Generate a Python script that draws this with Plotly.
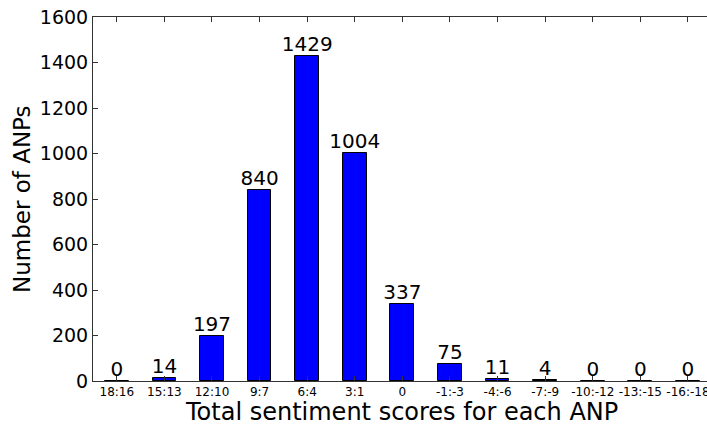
import plotly.graph_objects as go

categories = ["18:16", "15:13", "12:10", "9:7", "6:4", "3:1", "0",
              "-1:-3", "-4:-6", "-7:-9", "-10:-12", "-13:-15", "-16:-18"]
counts = [0, 14, 197, 840, 1429, 1004, 337, 75, 11, 4, 0, 0, 0]
y_ticks = [0, 200, 400, 600, 800, 1000, 1200, 1400, 1600]

xpos = list(range(len(categories)))

fig = go.Figure()
fig.add_trace(go.Bar(
    x=xpos, y=counts, width=0.5,
    marker=dict(color="#0000ff", line=dict(color="black", width=1)),
    hoverinfo="skip",
))
fig.add_trace(go.Scatter(
    x=xpos, y=counts, mode="text",
    text=[str(c) for c in counts], textposition="top center",
    textfont=dict(family="DejaVu Sans", size=20, color="black"),
    cliponaxis=False,
))

fig.update_layout(
    width=707, height=425,
    margin=dict(l=93, r=0, t=17, b=44),
    paper_bgcolor="white", plot_bgcolor="white",
    showlegend=False,
    font=dict(family="DejaVu Sans", color="black"),
    bargap=0,
    annotations=[
        dict(text="Total sentiment scores for each ANP", xref="paper", yref="paper",
             x=0.503, y=0, yshift=-31, xanchor="center", yanchor="middle",
             showarrow=False, font=dict(size=24, color="black")),
        dict(text="Number of ANPs", xref="paper", yref="paper",
             x=0, xshift=-71, y=0.5, xanchor="center", yanchor="middle",
             textangle=-90, showarrow=False, font=dict(size=23, color="black")),
    ],
)
fig.update_xaxes(
    range=[-0.5, 12.4], automargin=False,
    tickmode="array", tickvals=xpos, ticktext=categories,
    tickfont=dict(size=12, color="black"), ticklabeloverflow="allow",
    ticks="inside", ticklen=5, tickcolor="#333",
    showline=True, linecolor="#333", linewidth=1, mirror="allticks",
    showgrid=False, zeroline=False,
)
fig.update_yaxes(
    range=[0, 1600], automargin=False,
    tickmode="array", tickvals=y_ticks, ticktext=[str(v) for v in y_ticks],
    tickfont=dict(size=19, color="black"),
    ticks="inside", ticklen=5, tickcolor="#333",
    showline=True, linecolor="#333", linewidth=1,
    showgrid=False, zeroline=False,
)

fig.write_html("out.html", config={"displayModeBar": False},
               post_script="document.body.style.margin='0';document.body.style.overflow='hidden';")
